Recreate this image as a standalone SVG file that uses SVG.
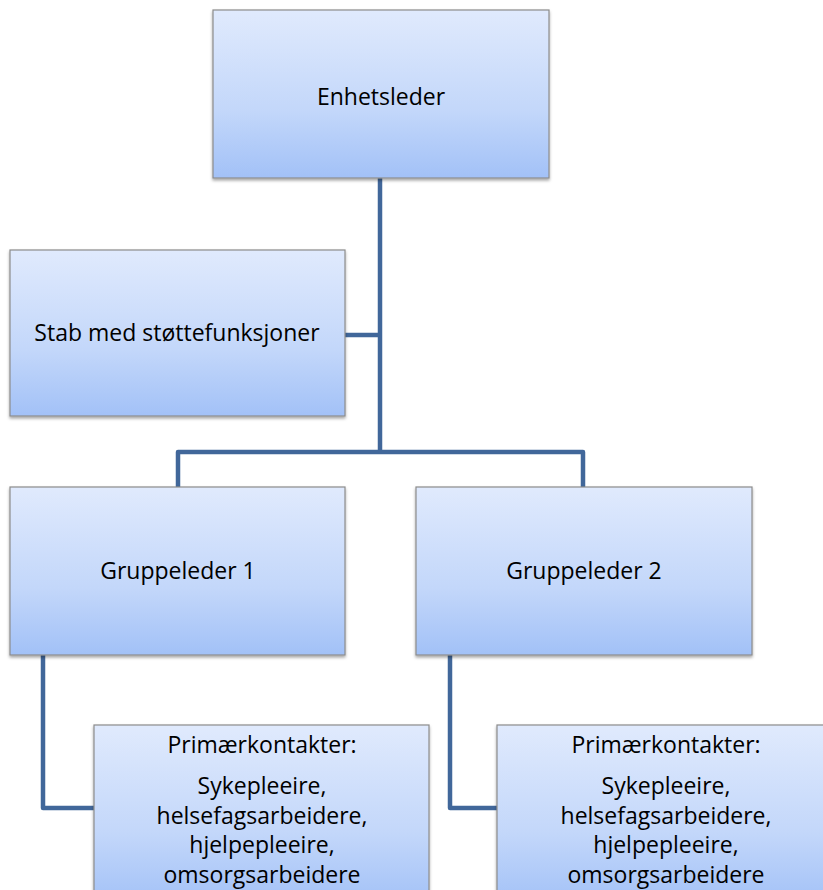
<svg xmlns="http://www.w3.org/2000/svg" width="823" height="890" viewBox="0 0 823 890">
<style>
.box{fill:url(#g);stroke:#8c8c8c;stroke-width:1.2;filter:url(#sh)}
.t{font-family:"Open Sans","Liberation Sans",sans-serif;font-size:23px;fill:#000;text-anchor:middle}
.c{fill:none;stroke:#41679a;stroke-width:4.5;stroke-linejoin:round}
</style>
<defs>
<linearGradient id="g" x1="0" y1="0" x2="0" y2="1">
<stop offset="0" stop-color="#e0eafd"/>
<stop offset="0.6" stop-color="#c3d7fa"/>
<stop offset="1" stop-color="#a2c1f7"/>
</linearGradient>
<filter id="sh" x="-5%" y="-5%" width="110%" height="115%">
<feDropShadow dx="0" dy="2" stdDeviation="1.5" flood-color="#000" flood-opacity="0.35"/>
</filter>
</defs>
<g id="connectors">
<path class="c" d="M380 178 V452"/>
<path class="c" d="M345 335 H380"/>
<path class="c" d="M178 487 V452 H583 V487"/>
<path class="c" d="M43 655 V808 H94"/>
<path class="c" d="M450 655 V808 H497"/>
</g>
<g id="enhetsleder">
<rect class="box" x="213" y="10" width="336" height="168"/>
<text class="t" x="381" y="105">Enhetsleder</text>
</g>
<g id="stab">
<rect class="box" x="10" y="250" width="335" height="166"/>
<text class="t" x="177" y="341">Stab med støttefunksjoner</text>
</g>
<g id="gruppeleder1">
<rect class="box" x="10" y="487" width="335" height="168"/>
<text class="t" x="178" y="579">Gruppeleder 1</text>
</g>
<g id="gruppeleder2">
<rect class="box" x="416" y="487" width="336" height="168"/>
<text class="t" x="584" y="579">Gruppeleder 2</text>
</g>
<g id="primaer1">
<rect class="box" x="94" y="725" width="335" height="180"/>
<text class="t" x="262" y="753">Primærkontakter:</text>
<text class="t" x="262" y="794">Sykepleeire,</text>
<text class="t" x="262" y="824">helsefagsarbeidere,</text>
<text class="t" x="262" y="853">hjelpepleeire,</text>
<text class="t" x="262" y="883">omsorgsarbeidere</text>
</g>
<g id="primaer2">
<rect class="box" x="497" y="725" width="338" height="180"/>
<text class="t" x="666" y="753">Primærkontakter:</text>
<text class="t" x="666" y="794">Sykepleeire,</text>
<text class="t" x="666" y="824">helsefagsarbeidere,</text>
<text class="t" x="666" y="853">hjelpepleeire,</text>
<text class="t" x="666" y="883">omsorgsarbeidere</text>
</g>
</svg>
